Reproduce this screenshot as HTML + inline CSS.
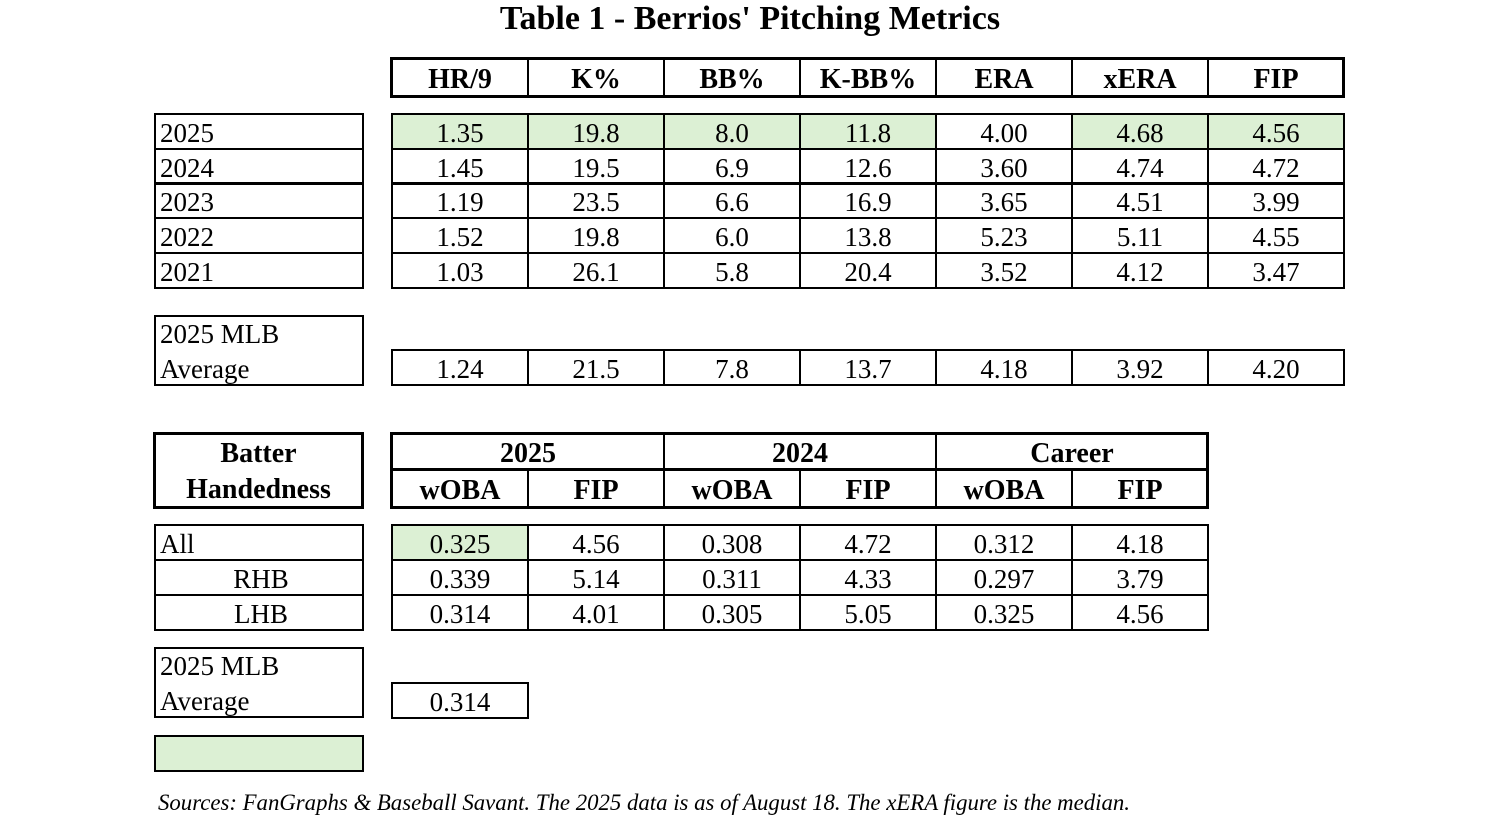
<!DOCTYPE html>
<html><head><meta charset="utf-8"><style>
body{margin:0;width:1500px;height:825px;background:#fff;position:relative;overflow:hidden;font-family:"Liberation Serif","DejaVu Serif",serif;color:#000}
.c{position:absolute;border:2px solid #000;box-sizing:border-box;font-size:27px;display:flex;align-items:center;justify-content:center;padding-top:4px;width:138px;height:37px}
.l{justify-content:flex-start;padding-left:4px;width:210px}
.b{font-weight:bold;font-size:28px}
.g{background:#dcf0d4}
.t{position:absolute;border:3px solid #000;box-sizing:border-box}
.two{flex-direction:column;align-items:flex-start;justify-content:center;line-height:35px;padding-top:2px}
</style></head><body>
<div style="position:absolute;top:0px;left:0;width:1500px;text-align:center;font-size:34px;font-weight:bold">Table 1 - Berrios' Pitching Metrics</div>

<div class="c b" style="left:391px;top:58px;height:39px">HR/9</div>
<div class="c b" style="left:527px;top:58px;height:39px">K%</div>
<div class="c b" style="left:663px;top:58px;height:39px">BB%</div>
<div class="c b" style="left:799px;top:58px;height:39px">K-BB%</div>
<div class="c b" style="left:935px;top:58px;height:39px">ERA</div>
<div class="c b" style="left:1071px;top:58px;height:39px">xERA</div>
<div class="c b" style="left:1207px;top:58px;height:39px">FIP</div>
<div class="t" style="left:390px;top:57px;width:955px;height:41px"></div>

<div class="c l" style="left:154px;top:113px">2025</div>
<div class="c l" style="left:154px;top:148px">2024</div>
<div class="c l" style="left:154px;top:182px">2023</div>
<div class="c l" style="left:154px;top:217px">2022</div>
<div class="c l" style="left:154px;top:252px">2021</div>

<div class="c g" style="left:391px;top:113px">1.35</div><div class="c g" style="left:527px;top:113px">19.8</div><div class="c g" style="left:663px;top:113px">8.0</div><div class="c g" style="left:799px;top:113px">11.8</div><div class="c" style="left:935px;top:113px">4.00</div><div class="c g" style="left:1071px;top:113px">4.68</div><div class="c g" style="left:1207px;top:113px">4.56</div>
<div class="c" style="left:391px;top:148px">1.45</div><div class="c" style="left:527px;top:148px">19.5</div><div class="c" style="left:663px;top:148px">6.9</div><div class="c" style="left:799px;top:148px">12.6</div><div class="c" style="left:935px;top:148px">3.60</div><div class="c" style="left:1071px;top:148px">4.74</div><div class="c" style="left:1207px;top:148px">4.72</div>
<div class="c" style="left:391px;top:182px">1.19</div><div class="c" style="left:527px;top:182px">23.5</div><div class="c" style="left:663px;top:182px">6.6</div><div class="c" style="left:799px;top:182px">16.9</div><div class="c" style="left:935px;top:182px">3.65</div><div class="c" style="left:1071px;top:182px">4.51</div><div class="c" style="left:1207px;top:182px">3.99</div>
<div class="c" style="left:391px;top:217px">1.52</div><div class="c" style="left:527px;top:217px">19.8</div><div class="c" style="left:663px;top:217px">6.0</div><div class="c" style="left:799px;top:217px">13.8</div><div class="c" style="left:935px;top:217px">5.23</div><div class="c" style="left:1071px;top:217px">5.11</div><div class="c" style="left:1207px;top:217px">4.55</div>
<div class="c" style="left:391px;top:252px">1.03</div><div class="c" style="left:527px;top:252px">26.1</div><div class="c" style="left:663px;top:252px">5.8</div><div class="c" style="left:799px;top:252px">20.4</div><div class="c" style="left:935px;top:252px">3.52</div><div class="c" style="left:1071px;top:252px">4.12</div><div class="c" style="left:1207px;top:252px">3.47</div>

<div class="c l two" style="left:154px;top:315px;height:71px"><span>2025 MLB</span><span>Average</span></div>
<div class="c" style="left:391px;top:349px">1.24</div><div class="c" style="left:527px;top:349px">21.5</div><div class="c" style="left:663px;top:349px">7.8</div><div class="c" style="left:799px;top:349px">13.7</div><div class="c" style="left:935px;top:349px">4.18</div><div class="c" style="left:1071px;top:349px">3.92</div><div class="c" style="left:1207px;top:349px">4.20</div>

<div class="t" style="left:153px;top:432px;width:211px;height:77px"></div>
<div class="c b" style="left:154px;top:433px;width:209px;height:75px;border:none;flex-direction:column;line-height:36px;padding-top:2px"><span>Batter</span><span>Handedness</span></div>
<div class="c b" style="left:391px;top:433px;width:274px">2025</div>
<div class="c b" style="left:663px;top:433px;width:274px">2024</div>
<div class="c b" style="left:935px;top:433px;width:274px">Career</div>
<div class="c b" style="left:391px;top:469px;height:39px">wOBA</div><div class="c b" style="left:527px;top:469px;height:39px">FIP</div><div class="c b" style="left:663px;top:469px;height:39px">wOBA</div><div class="c b" style="left:799px;top:469px;height:39px">FIP</div><div class="c b" style="left:935px;top:469px;height:39px">wOBA</div><div class="c b" style="left:1071px;top:469px;height:39px">FIP</div>
<div class="t" style="left:390px;top:432px;width:819px;height:77px"></div>

<div class="c l" style="left:154px;top:524px">All</div>
<div class="c l" style="left:154px;top:559px;justify-content:center">RHB</div>
<div class="c l" style="left:154px;top:594px;justify-content:center">LHB</div>

<div class="c g" style="left:391px;top:524px">0.325</div><div class="c" style="left:527px;top:524px">4.56</div><div class="c" style="left:663px;top:524px">0.308</div><div class="c" style="left:799px;top:524px">4.72</div><div class="c" style="left:935px;top:524px">0.312</div><div class="c" style="left:1071px;top:524px">4.18</div>
<div class="c" style="left:391px;top:559px">0.339</div><div class="c" style="left:527px;top:559px">5.14</div><div class="c" style="left:663px;top:559px">0.311</div><div class="c" style="left:799px;top:559px">4.33</div><div class="c" style="left:935px;top:559px">0.297</div><div class="c" style="left:1071px;top:559px">3.79</div>
<div class="c" style="left:391px;top:594px">0.314</div><div class="c" style="left:527px;top:594px">4.01</div><div class="c" style="left:663px;top:594px">0.305</div><div class="c" style="left:799px;top:594px">5.05</div><div class="c" style="left:935px;top:594px">0.325</div><div class="c" style="left:1071px;top:594px">4.56</div>

<div class="c l two" style="left:154px;top:647px;height:71px"><span>2025 MLB</span><span>Average</span></div>
<div class="c" style="left:391px;top:682px">0.314</div>

<div class="c l g" style="left:154px;top:735px"></div>

<div style="position:absolute;left:158px;top:790px;font-size:22.8px;font-style:italic">Sources: FanGraphs &amp; Baseball Savant. The 2025 data is as of August 18. The xERA figure is the median.</div>
</body></html>
